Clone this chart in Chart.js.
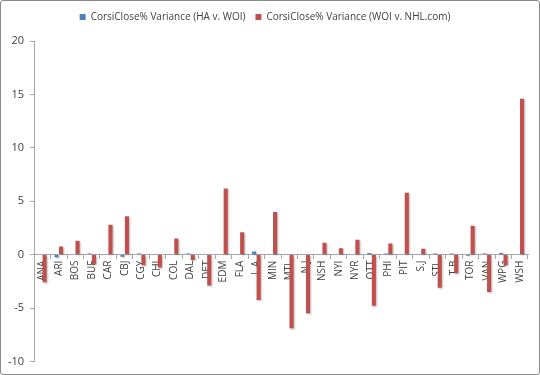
<!DOCTYPE html>
<html>
<head>
<meta charset="utf-8">
<script src="https://cdn.jsdelivr.net/npm/chart.js@4/dist/chart.umd.min.js"></script>
<style>
  html, body { margin: 0; padding: 0; background: #fff; }
  #wrap { position: absolute; left: 0; top: 0; width: 540px; height: 375px; box-sizing: border-box; border: 1px solid #8a8a8a; border-radius: 3px; background: #fff; }
  #c { position: absolute; left: 0; top: 0; }
</style>
</head>
<body>
<div id="wrap"><canvas id="c" width="538" height="373"></canvas></div>
<script>
const teams = ["ANA","ARI","BOS","BUF","CAR","CBJ","CGY","CHI","COL","DAL","DET","EDM","FLA","L.A","MIN","MTL","N.J","NSH","NYI","NYR","OTT","PHI","PIT","S.J","STL","T.B","TOR","VAN","WPG","WSH"];
const haVsWoi = [0, -0.25, 0, 0.1, 0, -0.2, 0.1, 0, 0, 0.1, 0, 0, 0, 0.3, 0, 0, 0, 0, 0, 0, 0.15, 0.1, 0, 0, 0.1, 0.1, -0.1, 0.1, 0.15, 0];
const woiVsNhl = [-2.6, 0.75, 1.3, -0.9, 2.8, 3.6, -1.0, -1.2, 1.5, -0.5, -2.9, 6.2, 2.1, -4.25, 4.0, -6.9, -5.5, 1.1, 0.6, 1.4, -4.8, 1.05, 5.8, 0.55, -3.1, -1.75, 2.7, -3.5, -1.0, 14.6];
const yTicks = [20, 15, 10, 5, 0, -5, -10];

const seriesNames = ["CorsiClose% Variance (HA v. WOI)", "CorsiClose% Variance (WOI v. NHL.com)"];
const fontFamily = "'Open Sans', 'DejaVu Sans', sans-serif";

const shadowPlugin = {
  id: 'barShadow',
  beforeDatasetsDraw(chart) {
    const ctx = chart.ctx;
    ctx.save();
    ctx.shadowColor = 'rgba(0,0,0,0.28)';
    ctx.shadowBlur = 2;
    ctx.shadowOffsetX = 1;
    ctx.shadowOffsetY = 1;
  },
  afterDatasetsDraw(chart) {
    chart.ctx.restore();
  }
};

const legendSpacer = {
  id: 'legendSpacer',
  beforeInit(chart) {
    const lg = chart.legend;
    const origFit = lg.fit;
    lg.fit = function () { origFit.call(this); this.height += 9; };
  }
};

new Chart(document.getElementById('c'), {
  type: 'bar',
  data: {
    labels: teams,
    datasets: [
      { label: seriesNames[0], data: haVsWoi, backgroundColor: '#4F81BD', borderWidth: 0 },
      { label: seriesNames[1], data: woiVsNhl, backgroundColor: '#C0504D', borderWidth: 0 }
    ]
  },
  options: {
    responsive: false,
    animation: false,
    devicePixelRatio: 1,
    layout: { padding: { left: 1, right: 11, top: 1, bottom: 8 } },
    datasets: { bar: { categoryPercentage: 0.55, barPercentage: 0.9 } },
    plugins: {
      legend: {
        position: 'top',
        labels: {
          boxWidth: 6, boxHeight: 6, padding: 10,
          color: '#404040',
          font: { family: fontFamily, size: 10 }
        }
      },
      tooltip: { enabled: false }
    },
    scales: {
      x: {
        position: { y: 0 },
        offset: true,
        grid: { drawOnChartArea: false, drawTicks: true, tickLength: 4, color: '#a6a6a6', offset: true },
        border: { color: '#a6a6a6' },
        ticks: {
          autoSkip: false, minRotation: 90, maxRotation: 90, padding: 2,
          color: '#404040',
          font: { family: fontFamily, size: 10 }
        }
      },
      y: {
        min: -10, max: 20,
        afterBuildTicks(axis) { axis.ticks = yTicks.map(v => ({ value: v })); },
        grid: { drawOnChartArea: false, drawTicks: true, tickLength: 4, color: '#a6a6a6' },
        border: { color: '#a6a6a6' },
        ticks: {
          padding: 6,
          color: '#404040',
          font: { family: fontFamily, size: 11 }
        }
      }
    }
  },
  plugins: [shadowPlugin, legendSpacer]
});
</script>
</body>
</html>
